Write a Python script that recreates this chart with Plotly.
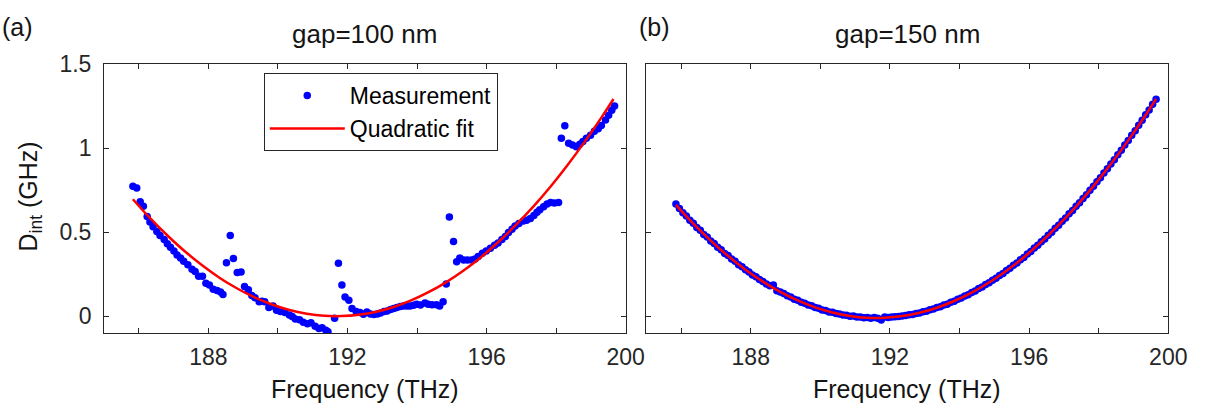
import plotly.graph_objects as go

# ---------------- Panel (a): gap = 100 nm ----------------
a_meas_x = [185.83, 185.94, 186.04, 186.13, 186.24, 186.32, 186.41, 186.52, 186.61, 186.73,
            186.82, 186.91, 187.01, 187.10, 187.20, 187.29, 187.41, 187.53, 187.62, 187.72,
            187.83, 187.93, 188.03, 188.14, 188.25, 188.35, 188.42, 188.52, 188.63, 188.72,
            188.83, 188.94, 189.04, 189.15, 189.25, 189.34, 189.46, 189.54, 189.62, 189.74,
            189.86, 189.96, 190.07, 190.20, 190.33, 190.41, 190.50, 190.62, 190.73, 190.85,
            190.95, 191.07, 191.18, 191.27, 191.38, 191.44, 191.63, 191.74, 191.84, 191.93,
            192.04, 192.13, 192.25, 192.36, 192.46, 192.56, 192.66, 192.76, 192.86, 192.95,
            193.05, 193.14, 193.24, 193.33, 193.42, 193.52, 193.61, 193.71, 193.80, 193.90,
            193.99, 194.10, 194.23, 194.32, 194.43, 194.56, 194.65, 194.75, 194.84, 194.93,
            195.05, 195.14, 195.23, 195.34, 195.45, 195.57, 195.67, 195.76, 195.88, 195.99,
            196.11, 196.23, 196.33, 196.44, 196.54, 196.63, 196.73, 196.82, 196.93, 197.06,
            197.15, 197.26, 197.36, 197.45, 197.53, 197.64, 197.74, 197.84, 197.95, 198.07,
            198.15, 198.25, 198.36, 198.47, 198.58, 198.68, 198.77, 198.87, 198.99, 199.10,
            199.21, 199.30, 199.42, 199.51, 199.60, 199.68]
a_meas_y = [0.773, 0.763, 0.681, 0.654, 0.594, 0.561, 0.533, 0.504, 0.481, 0.456,
            0.431, 0.411, 0.388, 0.365, 0.346, 0.327, 0.307, 0.279, 0.267, 0.238,
            0.238, 0.196, 0.186, 0.161, 0.154, 0.144, 0.129, 0.319, 0.481, 0.344,
            0.260, 0.263, 0.177, 0.158, 0.123, 0.110, 0.087, 0.089, 0.087, 0.052,
            0.061, 0.036, 0.029, 0.023, 0.008, -0.002, -0.016, -0.020, -0.035, -0.044,
            -0.039, -0.060, -0.073, -0.068, -0.083, -0.092, -0.012, 0.315, 0.186, 0.115,
            0.096, 0.046, 0.029, 0.023, 0.012, 0.025, 0.013, 0.010, 0.013, 0.019,
            0.029, 0.032, 0.040, 0.046, 0.052, 0.058, 0.061, 0.061, 0.061, 0.065,
            0.071, 0.067, 0.079, 0.071, 0.069, 0.069, 0.061, 0.087, 0.192, 0.590,
            0.444, 0.325, 0.346, 0.335, 0.335, 0.335, 0.340, 0.355, 0.375, 0.388,
            0.404, 0.423, 0.436, 0.456, 0.475, 0.498, 0.517, 0.537, 0.552, 0.567,
            0.571, 0.581, 0.600, 0.619, 0.633, 0.652, 0.667, 0.677, 0.673, 0.677,
            1.058, 1.133, 1.029, 1.019, 1.008, 1.023, 1.039, 1.058, 1.077, 1.100,
            1.115, 1.134, 1.167, 1.196, 1.225, 1.250]

a_fit_x = [185.83, 186.33, 186.83, 187.33, 187.83, 188.33, 188.83, 189.33, 189.83, 190.33,
           190.83, 191.33, 191.83, 192.33, 192.83, 193.33, 193.83, 194.33, 194.83, 195.33,
           195.83, 196.33, 196.83, 197.33, 197.83, 198.33, 198.83, 199.33, 199.65]
a_fit_y = [0.696, 0.582, 0.479, 0.385, 0.302, 0.228, 0.165, 0.112, 0.070, 0.037,
           0.015, 0.003, 0.001, 0.009, 0.027, 0.055, 0.094, 0.143, 0.202, 0.271,
           0.350, 0.440, 0.540, 0.649, 0.769, 0.900, 1.040, 1.190, 1.292]

# ---------------- Panel (b): gap = 150 nm ----------------
b_meas_x = [185.85, 185.95, 186.05, 186.15, 186.25, 186.35, 186.45, 186.55, 186.65, 186.75,
            186.85, 186.95, 187.05, 187.15, 187.25, 187.35, 187.45, 187.55, 187.65, 187.75,
            187.85, 187.95, 188.05, 188.15, 188.25, 188.35, 188.45, 188.55, 188.65, 188.75,
            188.85, 188.95, 189.05, 189.15, 189.25, 189.35, 189.45, 189.55, 189.65, 189.75,
            189.85, 189.95, 190.05, 190.15, 190.25, 190.35, 190.45, 190.55, 190.65, 190.75,
            190.85, 190.95, 191.05, 191.15, 191.25, 191.35, 191.45, 191.55, 191.65, 191.75,
            191.85, 191.95, 192.05, 192.15, 192.25, 192.35, 192.45, 192.55, 192.65, 192.75,
            192.85, 192.95, 193.05, 193.15, 193.25, 193.35, 193.45, 193.55, 193.65, 193.75,
            193.85, 193.95, 194.05, 194.15, 194.25, 194.35, 194.45, 194.55, 194.65, 194.75,
            194.85, 194.95, 195.05, 195.15, 195.25, 195.35, 195.45, 195.55, 195.65, 195.75,
            195.85, 195.95, 196.05, 196.15, 196.25, 196.35, 196.45, 196.55, 196.65, 196.75,
            196.85, 196.95, 197.05, 197.15, 197.25, 197.35, 197.45, 197.55, 197.65, 197.75,
            197.85, 197.95, 198.05, 198.15, 198.25, 198.35, 198.45, 198.55, 198.65, 198.75,
            198.85, 198.95, 199.05, 199.15, 199.25, 199.35, 199.45, 199.55, 199.65]
b_meas_y = [0.668, 0.641, 0.615, 0.596, 0.571, 0.553, 0.528, 0.511, 0.487, 0.471,
            0.448, 0.433, 0.410, 0.395, 0.374, 0.361, 0.340, 0.327, 0.306, 0.294,
            0.276, 0.264, 0.246, 0.235, 0.218, 0.207, 0.192, 0.182, 0.186, 0.152,
            0.144, 0.135, 0.122, 0.115, 0.102, 0.096, 0.083, 0.078, 0.067, 0.062,
            0.052, 0.048, 0.038, 0.035, 0.026, 0.024, 0.016, 0.014, 0.007, 0.006,
            0.000, 0.001, -0.005, -0.004, -0.009, -0.007, -0.011, -0.008, -0.012, -0.022,
            -0.004, -0.007, -0.005, -0.003, -0.001, 0.002, 0.004, 0.009, 0.011, 0.017,
            0.019, 0.027, 0.030, 0.039, 0.043, 0.052, 0.056, 0.067, 0.072, 0.083,
            0.089, 0.101, 0.108, 0.121, 0.128, 0.142, 0.150, 0.165, 0.174, 0.189,
            0.199, 0.215, 0.226, 0.243, 0.255, 0.272, 0.285, 0.303, 0.317, 0.336,
            0.350, 0.370, 0.385, 0.406, 0.422, 0.443, 0.460, 0.482, 0.500, 0.523,
            0.541, 0.565, 0.584, 0.609, 0.629, 0.654, 0.675, 0.701, 0.723, 0.750,
            0.773, 0.800, 0.824, 0.852, 0.877, 0.906, 0.931, 0.961, 0.987, 1.018,
            1.045, 1.076, 1.104, 1.136, 1.165, 1.198, 1.227, 1.261, 1.290]

b_fit_x = [185.85, 186.35, 186.85, 187.35, 187.85, 188.35, 188.85, 189.35, 189.85, 190.35,
           190.85, 191.35, 191.85, 192.35, 192.85, 193.35, 193.85, 194.35, 194.85, 195.35,
           195.85, 196.35, 196.85, 197.35, 197.85, 198.35, 198.85, 199.35, 199.65]
b_fit_y = [0.663, 0.551, 0.450, 0.358, 0.277, 0.206, 0.145, 0.094, 0.053, 0.023,
           0.002, -0.009, -0.009, 0.001, 0.021, 0.051, 0.091, 0.141, 0.201, 0.271,
           0.351, 0.442, 0.543, 0.653, 0.774, 0.905, 1.046, 1.197, 1.293]

x_major_ticks = [188, 192, 196, 200]
x_major_text = ["188", "192", "196", "200"]
y_tickvals = [0, 0.5, 1, 1.5]
y_ticktext = ["0", "0.5", "1", "1.5"]

FONT = "Arial, Liberation Sans, sans-serif"
AX = "rgb(38,38,38)"
TXT = "rgb(20,20,20)"
BLUE = "rgb(0,0,255)"
RED = "rgb(255,0,0)"

fig = go.Figure()
fig.add_trace(go.Scatter(x=a_meas_x, y=a_meas_y, mode="markers", name="Measurement",
                         marker=dict(color=BLUE, size=7.5), xaxis="x", yaxis="y"))
fig.add_trace(go.Scatter(x=a_fit_x, y=a_fit_y, mode="lines", name="Quadratic fit",
                         line=dict(color=RED, width=2.5, shape="spline"), xaxis="x", yaxis="y"))
fig.add_trace(go.Scatter(x=b_meas_x, y=b_meas_y, mode="markers", showlegend=False,
                         marker=dict(color=BLUE, size=7.5), xaxis="x2", yaxis="y2"))
fig.add_trace(go.Scatter(x=b_fit_x, y=b_fit_y, mode="lines", showlegend=False,
                         line=dict(color=RED, width=2.5, shape="spline"), xaxis="x2", yaxis="y2"))

W, H = 1205, 413
L1, R1 = 105.7, 635.7
L2, R2 = 656.7, 1187.0
TOP, BOT = 52.7, 330.5

xax = dict(range=[185, 200], tickmode="array", tickvals=x_major_ticks, ticktext=x_major_text,
           ticks="inside", ticklen=5, tickcolor=AX, showline=True, linecolor=AX, linewidth=1,
           mirror="allticks", showgrid=False, zeroline=False,
           minor=dict(ticks="inside", ticklen=5, tickcolor=AX, tick0=186, dtick=2, showgrid=False),
           tickfont=dict(family=FONT, size=23, color=AX), ticklabelstandoff=3)
yax = dict(range=[-0.1, 1.5], tickmode="array", tickvals=y_tickvals, ticktext=y_ticktext,
           ticks="inside", ticklen=5, tickcolor=AX, showline=True, linecolor=AX, linewidth=1,
           mirror="allticks", showgrid=False, zeroline=False,
           tickfont=dict(family=FONT, size=23, color=AX), ticklabelstandoff=7)

fig.update_layout(
    width=W, height=H, autosize=False,
    margin=dict(l=0, r=0, t=0, b=0, pad=0),
    paper_bgcolor="white", plot_bgcolor="white",
    xaxis=dict(xax, domain=[L1 / W, R1 / W], anchor="y"),
    yaxis=dict(yax, domain=[1 - BOT / H, 1 - TOP / H], anchor="x"),
    xaxis2=dict(xax, domain=[L2 / W, R2 / W], anchor="y2"),
    yaxis2=dict(yax, domain=[1 - BOT / H, 1 - TOP / H], anchor="x2", showticklabels=False),
    showlegend=True,
    legend=dict(x=268 / W, y=1 - 62 / H, xanchor="left", yanchor="top",
                bordercolor=AX, borderwidth=1, bgcolor="white",
                font=dict(family=FONT, size=23, color="black"),
                itemwidth=75, tracegroupgap=0),
)

ann = [
    dict(text="(a)", x=0 / W, y=1 - 14 / H, xanchor="left", size=25),
    dict(text="(b)", x=647 / W, y=1 - 14 / H, xanchor="left", size=25),
    dict(text="gap=100 nm", x=(L1 + R1) / 2 / W, y=1 - 22 / H, xanchor="center", size=26),
    dict(text="gap=150 nm", x=(L2 + R2) / 2 / W, y=1 - 22 / H, xanchor="center", size=26),
    dict(text="Frequency (THz)", x=(L1 + R1) / 2 / W, y=1 - 388 / H, xanchor="center", size=25),
    dict(text="Frequency (THz)", x=(L2 + R2) / 2 / W, y=1 - 388 / H, xanchor="center", size=25),
]
for a in ann:
    fig.add_annotation(text=a["text"], x=a["x"], y=a["y"], xref="paper", yref="paper",
                       xanchor=a["xanchor"], yanchor="middle", showarrow=False,
                       font=dict(family=FONT, size=a["size"], color=TXT))
fig.add_annotation(text="D<sub>int</sub> (GHz)", x=30 / W, y=1 - 190 / H, xref="paper", yref="paper",
                   xanchor="center", yanchor="middle", textangle=-90, showarrow=False,
                   font=dict(family=FONT, size=25, color=TXT))

fig.write_html("out.html", config={"displayModeBar": False},
               post_script="document.body.style.margin='0';document.body.style.overflow='hidden';")
